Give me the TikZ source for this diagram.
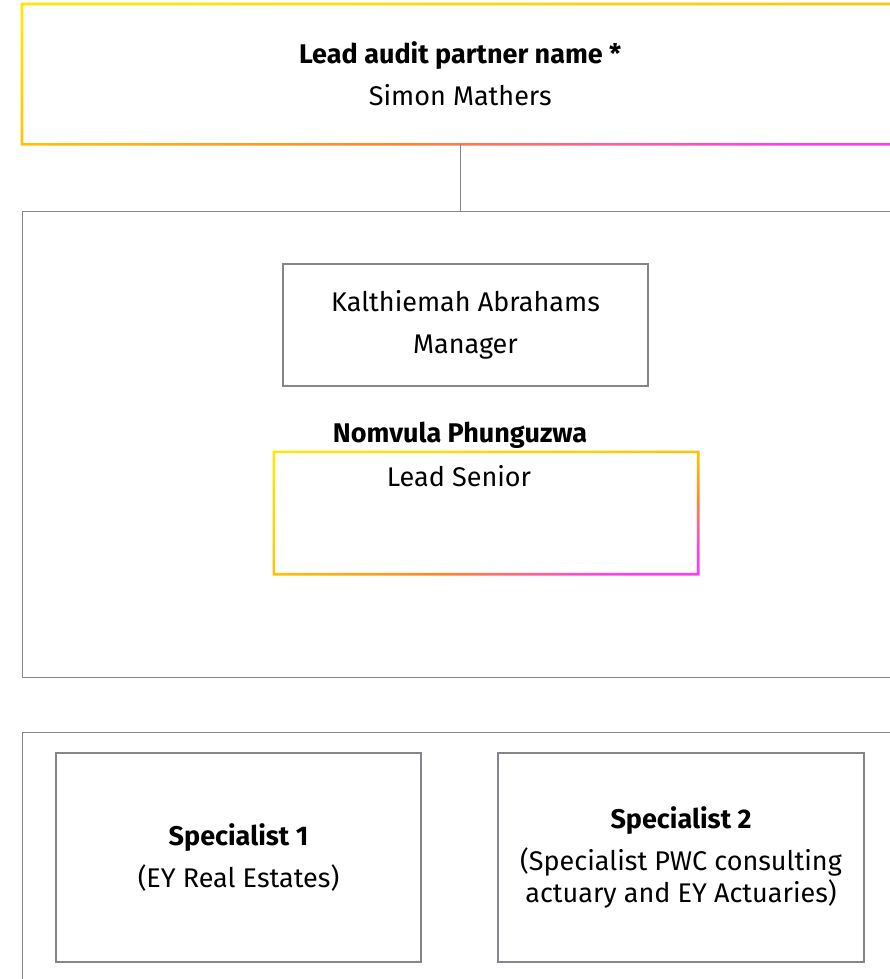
\documentclass[tikz,border=0pt]{standalone}
\usepackage{fontspec}
\setmainfont{Fira Sans}
\usetikzlibrary{positioning}
\usepackage{xcolor}
\definecolor{framegray}{HTML}{85858D}
\definecolor{eyyellow}{HTML}{FFE600}
\definecolor{eygold}{HTML}{FFC207}
\definecolor{eyorange}{HTML}{FF852C}
\definecolor{eypink}{HTML}{FF3CF5}
\pgfdeclarehorizontalshading{eyglow}{100bp}{color(0bp)=(eyyellow); color(25bp)=(eyyellow); color(50bp)=(eygold); color(62bp)=(eyorange); color(75bp)=(eypink); color(100bp)=(eypink)}

% gradient frame around a named node, #2 = shading angle
\newcommand{\glowframe}[2]{%
  \shade[even odd rule, shading=eyglow, shading angle=#2]
    ([shift={(-1.3pt,1.3pt)}]#1.north west) rectangle ([shift={(1.3pt,-1.3pt)}]#1.south east)
    ([shift={(1.3pt,-1.3pt)}]#1.north west) rectangle ([shift={(-1.3pt,1.3pt)}]#1.south east);}

\begin{document}
\begin{tikzpicture}[x=1pt, y=-1pt, font=\fontsize{27}{42}\selectfont,
  member/.style={draw=framegray, line width=1.4pt, align=center, inner sep=0pt},
  hotbox/.style={align=center, inner sep=0pt},
  link/.style={draw=framegray, line width=1pt}]
	\clip (0,0) rectangle (890,979);
	\node[hotbox, anchor=north west, minimum width=876pt, minimum height=140pt] (partner) at (22,4) {\textbf{Lead audit partner name *}\\Simon Mathers};
	\glowframe{partner}{-81}
	\node[member, anchor=north west, minimum width=876pt, minimum height=466pt] (team) at (22,211) {};
	\draw[link] (partner.south) -- (partner.south |- team.north);
	\node[member, minimum width=365pt, minimum height=122pt] (manager) at (465.5,325) {Kalthiemah Abrahams\\Manager};
	\node[hotbox, minimum width=424pt, minimum height=122pt] (senior) at (486,513) {};
	\glowframe{senior}{-74}
	\node[hotbox] (seniorname) at (460,435) {\textbf{Nomvula Phunguzwa}};
	\node[hotbox] (seniorrole) at (459,476) {Lead Senior};
	\node[member, anchor=north west, minimum width=876pt, minimum height=270pt] (specialists) at (22,732) {};
	\node[member, minimum width=365pt, minimum height=209pt] (spec1) at (238.5,857.5) {\textbf{Specialist 1}\\(EY Real Estates)};
	\node[member, minimum width=366pt, minimum height=209pt] (spec2) at (681,857.5) {\textbf{Specialist 2}\\(Specialist PWC consulting\\[-10pt]actuary and EY Actuaries)};
\end{tikzpicture}
\end{document}
